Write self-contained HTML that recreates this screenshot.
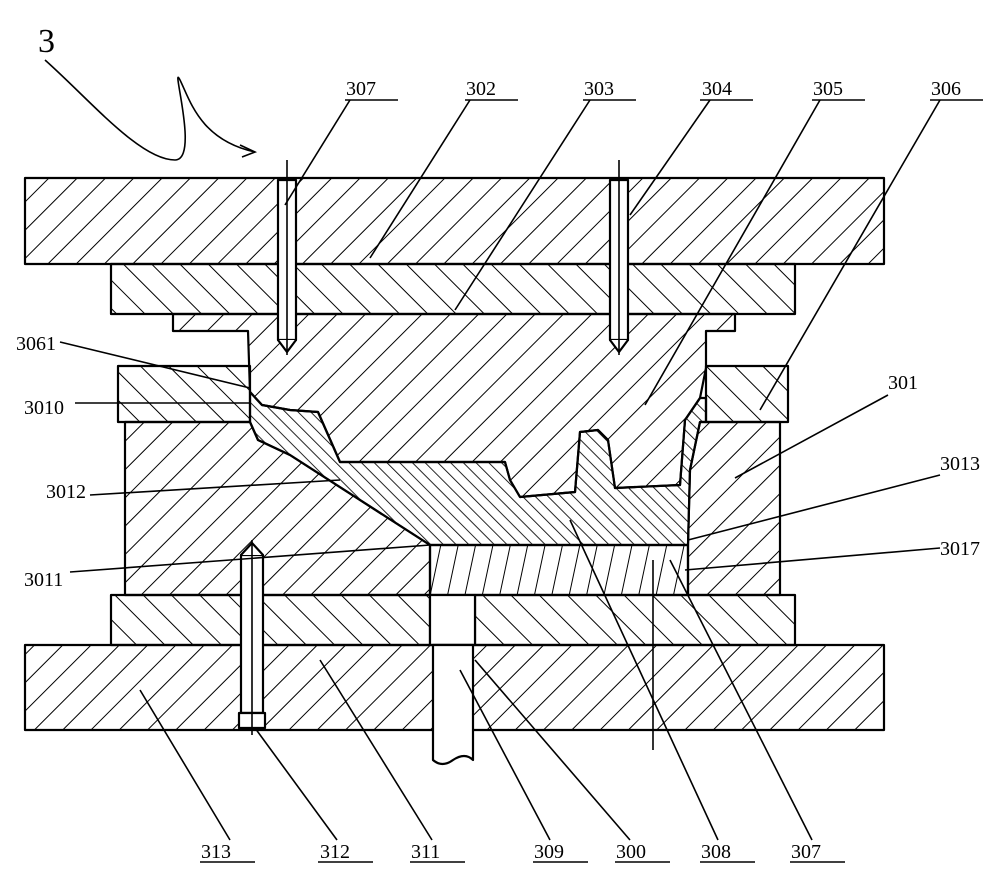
<!DOCTYPE html>
<html><head><meta charset="utf-8"><style>
html,body{margin:0;padding:0;background:#fff}
svg{display:block}
text{font-family:"Liberation Serif",serif;font-size:20px;fill:#000}
</style></head><body>
<svg width="1000" height="889" viewBox="0 0 1000 889" xmlns="http://www.w3.org/2000/svg">
<defs>
<pattern id="hA" patternUnits="userSpaceOnUse" width="20" height="20" patternTransform="rotate(45)"><line x1="0" y1="0" x2="0" y2="20" stroke="#000" stroke-width="2"/></pattern>
<pattern id="hB" patternUnits="userSpaceOnUse" width="20" height="20" patternTransform="rotate(-45)"><line x1="0" y1="0" x2="0" y2="20" stroke="#000" stroke-width="2"/></pattern>
<pattern id="hC" patternUnits="userSpaceOnUse" width="9" height="9" patternTransform="rotate(-45)"><line x1="0" y1="0" x2="0" y2="9" stroke="#000" stroke-width="1.7"/></pattern>
<pattern id="hD" patternUnits="userSpaceOnUse" width="17" height="17" patternTransform="rotate(12)"><line x1="0" y1="0" x2="0" y2="17" stroke="#000" stroke-width="2"/></pattern>
</defs>
<g stroke="#000" stroke-width="2.2" stroke-linejoin="round">
<rect x="25" y="178" width="859" height="86" fill="url(#hA)"/>
<rect x="111" y="264" width="684" height="50" fill="url(#hB)"/>
<path d="M173,314 L735,314 L735,331 L706,331 L706,368 L700,398 L685,420 L680,485 L615,488 L608,440 L598,430 L580,432 L575,492 L520,497 L510,480 L505,462 L340,462 L318,412 L290,410 L262,405 L250,392 L248,331 L173,331 Z" fill="url(#hA)"/>
<rect x="118" y="366" width="132" height="56" fill="url(#hB)"/>
<rect x="706" y="366" width="82" height="56" fill="url(#hB)"/>
<path d="M125,422 L250,422 L258,440 L290,455 L430,545 L430,595 L125,595 Z" fill="url(#hA)"/>
<path d="M688,545 L690,470 L700,422 L780,422 L780,595 L688,595 Z" fill="url(#hA)"/>
<path d="M250,392 L262,405 L290,410 L318,412 L340,462 L505,462 L510,480 L520,497 L575,492 L580,432 L598,430 L608,440 L615,488 L680,485 L685,420 L700,398 L706,398 L706,422 L700,422 L690,470 L688,545 L430,545 L290,455 L258,440 L250,422 Z" fill="url(#hC)"/>
<rect x="430" y="545" width="258" height="50" fill="url(#hD)"/>
<rect x="111" y="595" width="319" height="50" fill="url(#hB)"/>
<rect x="475" y="595" width="320" height="50" fill="url(#hB)"/>
<rect x="430" y="595" width="45" height="50" fill="#fff"/>
<rect x="25" y="645" width="859" height="85" fill="url(#hA)"/>
<path d="M433,645 L473,645 L473,760 Q465,752 453,760 Q442,768 433,760 Z" fill="#fff"/>
<rect x="278" y="180" width="18" height="160" fill="#fff"/>
<path d="M278,340 L287,352 L296,340" fill="#fff"/>
<rect x="610" y="180" width="18" height="160" fill="#fff"/>
<path d="M610,340 L619,352 L628,340" fill="#fff"/>
<rect x="241" y="555" width="22" height="158" fill="#fff"/>
<rect x="239" y="713" width="26" height="15" fill="#fff"/>
<path d="M241,555 L252,543 L263,555" fill="#fff"/>
</g>
<g stroke="#000" stroke-width="1.6" fill="none">
<line x1="287" y1="160" x2="287" y2="355"/>
<line x1="619" y1="160" x2="619" y2="355"/>
<line x1="252" y1="540" x2="252" y2="735"/>
<line x1="653" y1="560" x2="653" y2="750"/>
<path d="M45,60 C90,100 140,160 175,160 C200,160 170,60 180,80 C190,100 200,140 255,152"/>
<path d="M240,145 L255,152 L242,157"/>
<line x1="345" y1="100" x2="398" y2="100"/><line x1="350" y1="100" x2="285" y2="205"/>
<line x1="465" y1="100" x2="518" y2="100"/><line x1="470" y1="100" x2="370" y2="258"/>
<line x1="583" y1="100" x2="636" y2="100"/><line x1="590" y1="100" x2="455" y2="310"/>
<line x1="700" y1="100" x2="753" y2="100"/><line x1="710" y1="100" x2="630" y2="215"/>
<line x1="812" y1="100" x2="865" y2="100"/><line x1="820" y1="100" x2="645" y2="405"/>
<line x1="930" y1="100" x2="983" y2="100"/><line x1="940" y1="100" x2="760" y2="410"/>
<line x1="888" y1="395" x2="735" y2="478"/>
<line x1="940" y1="475" x2="688" y2="540"/>
<line x1="940" y1="548" x2="685" y2="570"/>
<line x1="60" y1="342" x2="250" y2="388"/>
<line x1="75" y1="403" x2="250" y2="403"/>
<line x1="90" y1="495" x2="340" y2="480"/>
<line x1="70" y1="572" x2="430" y2="545"/>
<line x1="200" y1="862" x2="255" y2="862"/><line x1="230" y1="840" x2="140" y2="690"/>
<line x1="318" y1="862" x2="373" y2="862"/><line x1="337" y1="840" x2="255" y2="728"/>
<line x1="410" y1="862" x2="465" y2="862"/><line x1="432" y1="840" x2="320" y2="660"/>
<line x1="533" y1="862" x2="588" y2="862"/><line x1="550" y1="840" x2="460" y2="670"/>
<line x1="615" y1="862" x2="670" y2="862"/><line x1="630" y1="840" x2="475" y2="660"/>
<line x1="700" y1="862" x2="755" y2="862"/><line x1="718" y1="840" x2="570" y2="520"/>
<line x1="790" y1="862" x2="845" y2="862"/><line x1="812" y1="840" x2="670" y2="560"/>
</g>
<text x="38" y="52" style="font-size:34px">3</text>
<text x="346" y="95">307</text><text x="466" y="95">302</text><text x="584" y="95">303</text>
<text x="702" y="95">304</text><text x="813" y="95">305</text><text x="931" y="95">306</text>
<text x="16" y="350">3061</text><text x="24" y="414">3010</text>
<text x="46" y="498">3012</text><text x="24" y="586">3011</text>
<text x="888" y="389">301</text><text x="940" y="470">3013</text><text x="940" y="555">3017</text>
<text x="201" y="858">313</text><text x="320" y="858">312</text><text x="411" y="858">311</text>
<text x="534" y="858">309</text><text x="616" y="858">300</text><text x="701" y="858">308</text><text x="791" y="858">307</text>
</svg>
</body></html>
